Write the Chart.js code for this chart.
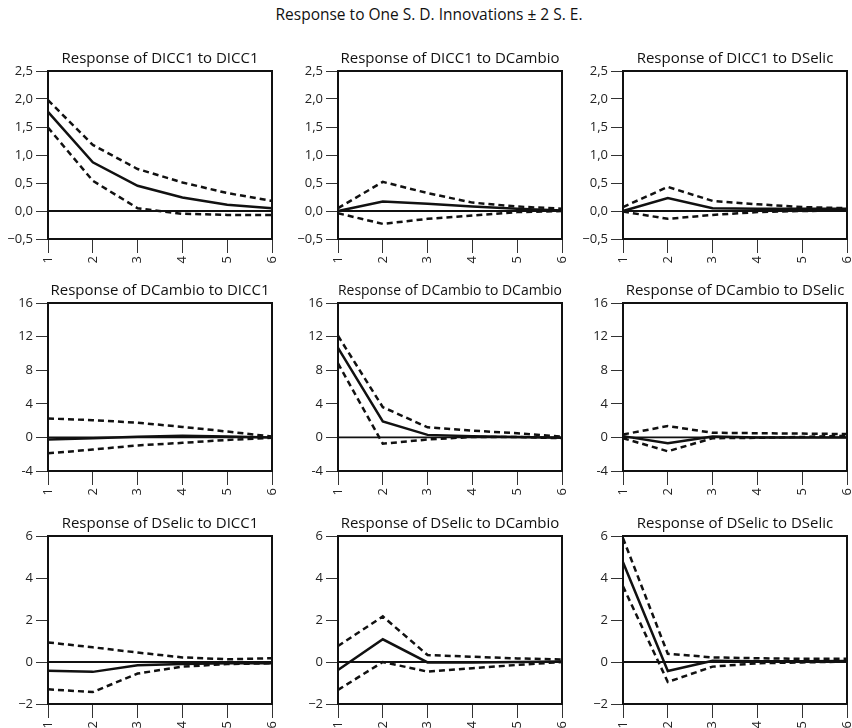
<!DOCTYPE html>
<html>
<head>
<meta charset="utf-8">
<script src="https://cdn.jsdelivr.net/npm/chart.js@4.4.0/dist/chart.umd.min.js"></script>
<style>
  body { margin: 0; width: 852px; height: 728px; overflow: hidden; background: #fff; position: relative; font-family: "Open Sans", sans-serif; }
  #mainTitle { position: absolute; top: 3px; left: 0; width: 858px; text-align: center; font-size: 15.5px; color: #111; }
  canvas { position: absolute; }
</style>
</head>
<body>
<div id="mainTitle">Response to One S. D. Innovations ± 2 S. E.</div>
<script>
// periods on the x axis
const periods = ["1", "2", "3", "4", "5", "6"];

const panelTitles = [
  "Response of DICC1 to DICC1", "Response of DICC1 to DCambio", "Response of DICC1 to DSelic",
  "Response of DCambio to DICC1", "Response of DCambio to DCambio", "Response of DCambio to DSelic",
  "Response of DSelic to DICC1", "Response of DSelic to DCambio", "Response of DSelic to DSelic"
];

// impulse response (solid line), one row per panel
const irfMid = [
  [1.77, 0.87, 0.45, 0.24, 0.11, 0.05],
  [0.00, 0.17, 0.13, 0.08, 0.04, 0.01],
  [0.00, 0.23, 0.05, 0.04, 0.04, 0.04],
  [-0.25, -0.10, 0.08, 0.20, 0.10, 0.00],
  [10.65, 1.90, 0.30, 0.15, 0.05, -0.05],
  [0.15, -0.70, 0.10, 0.00, 0.00, 0.00],
  [-0.42, -0.47, -0.15, -0.10, -0.06, -0.06],
  [-0.38, 1.08, -0.02, -0.02, 0.00, 0.02],
  [4.75, -0.43, 0.06, 0.03, 0.03, 0.05]
];

// +2 S.E. band
const irfUpper = [
  [1.98, 1.18, 0.75, 0.51, 0.32, 0.18],
  [0.05, 0.52, 0.32, 0.15, 0.08, 0.04],
  [0.07, 0.43, 0.18, 0.12, 0.07, 0.05],
  [2.25, 2.05, 1.75, 1.25, 0.70, 0.10],
  [12.1, 3.6, 1.2, 0.8, 0.5, 0.1],
  [0.35, 1.35, 0.55, 0.50, 0.45, 0.40],
  [0.93, 0.70, 0.45, 0.22, 0.13, 0.18],
  [0.76, 2.17, 0.33, 0.25, 0.17, 0.12],
  [5.90, 0.39, 0.22, 0.18, 0.15, 0.15]
];

// -2 S.E. band
const irfLower = [
  [1.49, 0.54, 0.05, -0.05, -0.07, -0.07],
  [-0.04, -0.23, -0.14, -0.08, -0.02, 0.00],
  [-0.01, -0.14, -0.07, -0.02, 0.00, 0.01],
  [-1.90, -1.45, -0.95, -0.65, -0.30, -0.05],
  [8.8, -0.75, -0.25, 0.05, 0.05, -0.10],
  [-0.10, -1.65, -0.10, -0.05, 0.05, 0.20],
  [-1.30, -1.43, -0.55, -0.22, -0.10, -0.06],
  [-1.33, 0.00, -0.46, -0.30, -0.14, 0.00],
  [3.60, -0.95, -0.22, -0.06, -0.02, 0.02]
];

const zeroLine = [0, 0, 0, 0, 0, 0];

// y ticks per row of panels
const rowTickValues = [
  [-0.5, 0, 0.5, 1, 1.5, 2, 2.5],
  [-4, 0, 4, 8, 12, 16],
  [-2, 0, 2, 4, 6]
];
const rowTickLabels = [
  ["\u22120,5", "0,0", "0,5", "1,0", "1,5", "2,0", "2,5"],
  ["-4", "0", "4", "8", "12", "16"],
  ["\u22122", "0", "2", "4", "6"]
];

// layout of the plot boxes
const colLeft = [48, 338, 623];
const rowTop = [71, 303, 536];
const plotW = 224, plotH = 168;
const yAxisW = 46, xAxisH = 44, titleH = 28, padRight = 6;

const framePlugin = {
  id: "frame",
  afterDatasetsDraw(chart) {
    const { ctx, chartArea: a } = chart;
    ctx.save();
    ctx.strokeStyle = "#111";
    ctx.lineWidth = 2;
    ctx.strokeRect(a.left, a.top, a.right - a.left, a.bottom - a.top);
    ctx.restore();
  }
};

const tickFont = { family: "'Open Sans', sans-serif", size: 13 };

for (let p = 0; p < 9; p++) {
  const r = Math.floor(p / 3), c = p % 3;
  const canvas = document.createElement("canvas");
  canvas.width = yAxisW + plotW + padRight;
  canvas.height = titleH + plotH + xAxisH;
  canvas.style.left = (colLeft[c] - yAxisW) + "px";
  canvas.style.top = (rowTop[r] - titleH) + "px";
  document.body.appendChild(canvas);

  const line = (data, width, dash) => ({
    data: data,
    borderColor: "#111",
    borderWidth: width,
    borderDash: dash,
    pointRadius: 0,
    tension: 0,
    fill: false,
    clip: 4
  });

  new Chart(canvas.getContext("2d"), {
    type: "line",
    data: {
      labels: periods,
      datasets: [
        line(zeroLine, 1.8, []),
        line(irfLower[p], 2.5, [6, 4]),
        line(irfUpper[p], 2.5, [6, 4]),
        line(irfMid[p], 2.5, [])
      ]
    },
    options: {
      responsive: false,
      animation: false,
      events: [],
      layout: { padding: { right: padRight, top: 0, bottom: 0, left: 0 } },
      plugins: {
        legend: { display: false },
        tooltip: { enabled: false },
        title: {
          display: true,
          text: panelTitles[p],
          fullSize: false,
          color: "#111",
          font: { family: "'Open Sans', sans-serif", size: 15, weight: "normal", lineHeight: 1.2 },
          padding: { top: 7, bottom: 3 }
        }
      },
      scales: {
        x: {
          offset: false,
          grid: { drawOnChartArea: false, drawTicks: true, tickLength: 14, color: "#333", lineWidth: 1 },
          border: { display: true, color: "#111", width: 2 },
          ticks: { color: "#222", font: tickFont, minRotation: 90, maxRotation: 90, padding: 3, autoSkip: false },
          afterFit(scale) { scale.height = xAxisH; scale.paddingLeft = 0; scale.paddingRight = 0; }
        },
        y: {
          min: rowTickValues[r][0],
          max: rowTickValues[r][rowTickValues[r].length - 1],
          grid: { drawOnChartArea: false, drawTicks: true, tickLength: 12, color: "#333", lineWidth: 1 },
          border: { display: true, color: "#111", width: 2 },
          afterBuildTicks(scale) { scale.ticks = rowTickValues[r].map(v => ({ value: v })); },
          ticks: {
            color: "#222",
            font: tickFont,
            padding: 3,
            callback(value) {
              const i = rowTickValues[r].findIndex(v => Math.abs(v - value) < 1e-9);
              return i >= 0 ? rowTickLabels[r][i] : "";
            }
          },
          afterFit(scale) { scale.width = yAxisW; scale.paddingTop = 0; scale.paddingBottom = 0; }
        }
      }
    },
    plugins: [framePlugin]
  });
}
</script>
</body>
</html>
